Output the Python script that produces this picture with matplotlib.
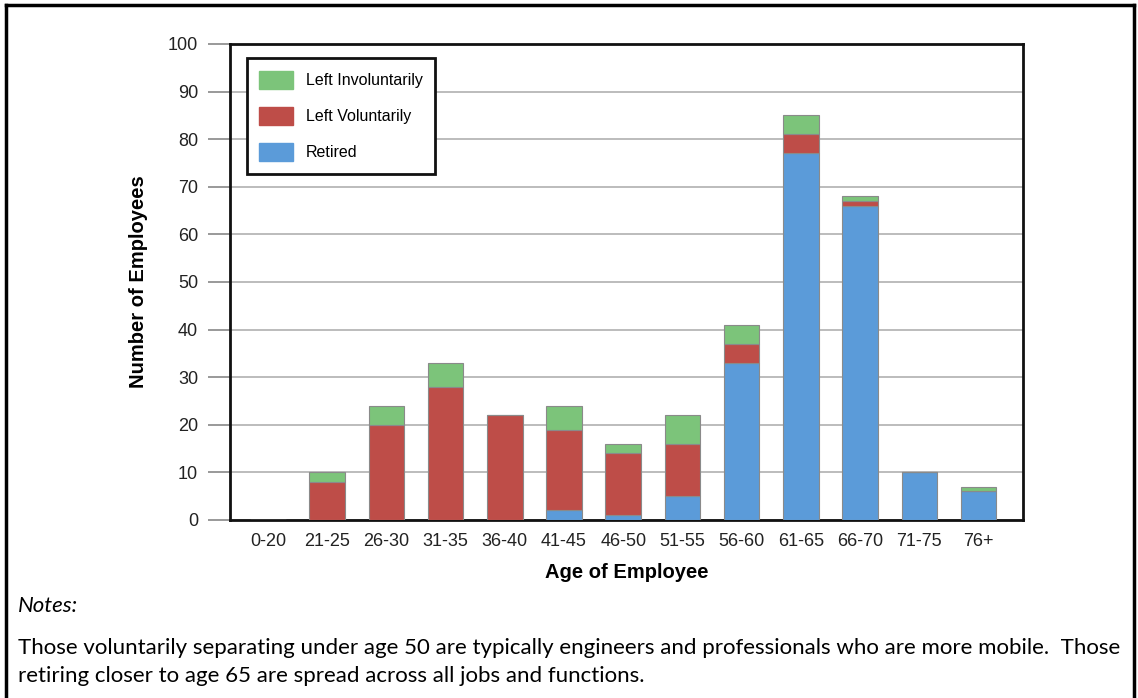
import matplotlib
matplotlib.use("Agg")
import matplotlib.pyplot as plt
from matplotlib.patches import Rectangle
from matplotlib.lines import Line2D
import numpy as np

categories = ["0-20", "21-25", "26-30", "31-35", "36-40", "41-45", "46-50",
              "51-55", "56-60", "61-65", "66-70", "71-75", "76+"]
retired = [0, 0, 0, 0, 0, 2, 1, 5, 33, 77, 66, 10, 6]
left_voluntarily = [0, 8, 20, 28, 22, 17, 13, 11, 4, 4, 1, 0, 0]
left_involuntarily = [0, 2, 4, 5, 0, 5, 2, 6, 4, 4, 1, 0, 1]
yticks = [0, 10, 20, 30, 40, 50, 60, 70, 80, 90, 100]

c_green = "#7cc47a"
c_red = "#be4d48"
c_blue = "#5b9bd9"
edge = "#8a8a8a"

W, H = 1138, 698
fig = plt.figure(figsize=(W / 100, H / 100), dpi=100)
plt.rcParams['font.family'] = ['Liberation Sans', 'DejaVu Sans']

ax = fig.add_axes([230 / W, 1 - 520 / H, (1023 - 230) / W, (520 - 44) / H])
x = np.arange(len(categories))
r = np.array(retired)
v = np.array(left_voluntarily)
g = np.array(left_involuntarily)
bw = 0.6
ax.bar(x, r, bw, color=c_blue, edgecolor=edge, linewidth=0.8, label="Retired", zorder=3)
ax.bar(x, v, bw, bottom=r, color=c_red, edgecolor=edge, linewidth=0.8, label="Left Voluntarily", zorder=3)
ax.bar(x, g, bw, bottom=r + v, color=c_green, edgecolor=edge, linewidth=0.8, label="Left Involuntarily", zorder=3)

ax.set_xlim(-0.64, 12.75)
ax.set_ylim(0, 100)
ax.set_yticks(yticks)
ax.set_yticklabels([str(t) for t in yticks], fontsize=13, color="#222222")
ax.set_xticks(x)
ax.set_xticklabels(categories, fontsize=13, color="#222222")
ax.tick_params(axis="x", length=0, pad=9)
ax.tick_params(axis="y", length=16, width=1.2, color="#888888", pad=7)
ax.yaxis.grid(True, color="#b0b0b0", linewidth=1.2, zorder=0)
ax.set_axisbelow(True)
for s in ax.spines.values():
    s.set_linewidth(2)
    s.set_color("#111111")

ax.set_ylabel("Number of Employees", fontsize=14.5, fontweight="bold")
ax.yaxis.set_label_coords((148 - 230) / (1023 - 230), 0.5)
ax.set_xlabel("Age of Employee", fontsize=14.5, fontweight="bold", labelpad=10)

handles = [Rectangle((0, 0), 1, 1, color=c_green),
           Rectangle((0, 0), 1, 1, color=c_red),
           Rectangle((0, 0), 1, 1, color=c_blue)]
leg = ax.legend(handles, ["Left Involuntarily", "Left Voluntarily", "Retired"],
                loc="upper left", bbox_to_anchor=(0.021, 0.971), fontsize=11.5,
                frameon=True, fancybox=False, framealpha=1, edgecolor="#111111",
                handlelength=2.1, handleheight=1.4, labelspacing=1.1,
                borderpad=0.8, handletextpad=0.8, borderaxespad=0)
leg.get_frame().set_linewidth(2)

# figure border
fig.add_artist(Line2D([6 / W, 1134 / W], [1 - 5 / H, 1 - 5 / H], color="black", lw=2.5, transform=fig.transFigure))
fig.add_artist(Line2D([6 / W, 6 / W], [0, 1 - 5 / H], color="black", lw=2.5, transform=fig.transFigure))
fig.add_artist(Line2D([1134 / W, 1134 / W], [0, 1 - 5 / H], color="black", lw=2.5, transform=fig.transFigure))

nfont = ["Lato", "DejaVu Sans"]
fig.text(18 / W, 1 - 606 / H, "Notes:", fontsize=16, style="italic",
         family=nfont, va="center", ha="left")
fig.text(18 / W, 1 - 648 / H,
         "Those voluntarily separating under age 50 are typically engineers and professionals who are more mobile.  Those",
         fontsize=16, family=nfont, va="center", ha="left")
fig.text(18 / W, 1 - 676 / H,
         "retiring closer to age 65 are spread across all jobs and functions.",
         fontsize=16, family=nfont, va="center", ha="left")

fig.savefig("out.png", dpi=100)
